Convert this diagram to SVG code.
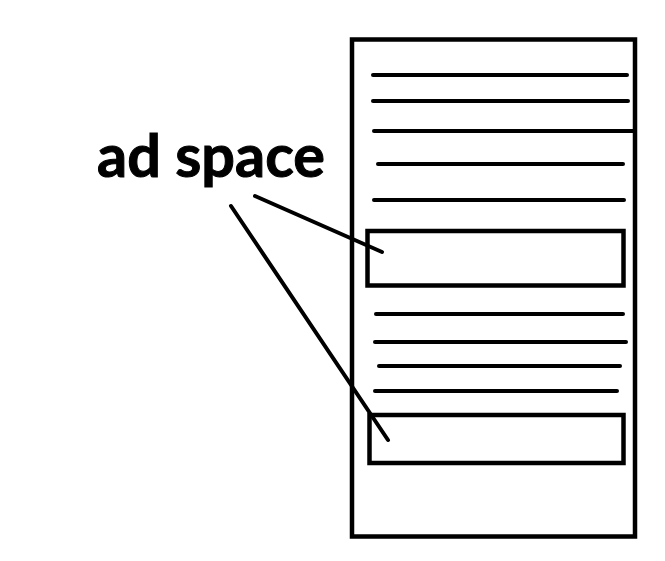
<svg xmlns="http://www.w3.org/2000/svg" width="665" height="561" viewBox="0 0 665 561">
<style>
.box{fill:none;stroke:#000;stroke-width:4.5}
.ln{stroke:#000;stroke-width:4;stroke-linecap:round}
.lbl{font-family:Lato,"Open Sans",sans-serif;font-weight:bold;font-size:59px;fill:#000;stroke:#000;stroke-width:1}
</style>
<rect width="665" height="561" fill="#fff"/>
<g id="page">
<rect class="box" x="352" y="39.5" width="283" height="497"/>
<line class="ln" x1="373" y1="75" x2="627" y2="75"/>
<line class="ln" x1="373" y1="101" x2="628" y2="101"/>
<line class="ln" x1="374" y1="131" x2="634" y2="131"/>
<line class="ln" x1="378" y1="164" x2="623" y2="164"/>
<line class="ln" x1="374" y1="200" x2="624" y2="200"/>
<line class="ln" x1="376" y1="314" x2="623" y2="314"/>
<line class="ln" x1="375" y1="342" x2="626" y2="342"/>
<line class="ln" x1="379" y1="366" x2="620" y2="366"/>
<line class="ln" x1="375" y1="391" x2="617" y2="391"/>
</g>
<g id="ad1"><rect class="box" x="367.5" y="231" width="256" height="54.5"/></g>
<g id="ad2"><rect class="box" x="369.5" y="415" width="254" height="48"/></g>
<g id="label"><text class="lbl" x="97" y="177" textLength="228" lengthAdjust="spacingAndGlyphs">ad space</text></g>
<g id="connectors">
<line class="ln" x1="255" y1="196" x2="382" y2="252"/>
<line class="ln" x1="231" y1="206" x2="388" y2="440"/>
</g>
</svg>
